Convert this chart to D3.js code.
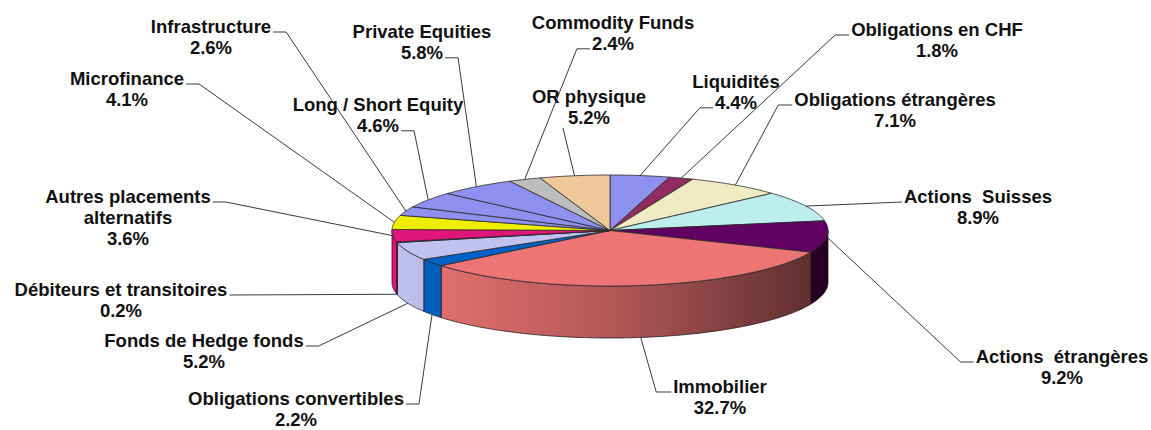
<!DOCTYPE html>
<html><head><meta charset="utf-8">
<script src="https://cdn.jsdelivr.net/npm/d3@7"></script>
<style>html,body{margin:0;padding:0;background:#fff;}svg{display:block;}</style>
</head><body>
<svg id="chart" width="1151" height="430"></svg>
<script>
// ---- data ----
const categories = ["Liquidités","Obligations en CHF","Obligations étrangères","Actions  Suisses","Actions  étrangères","Immobilier","Obligations convertibles","Fonds de Hedge fonds","Débiteurs et transitoires","Autres placements alternatifs","Microfinance","Infrastructure","Long / Short Equity","Private Equities","Commodity Funds","OR physique"];
const values = [4.4, 1.8, 7.1, 8.9, 9.2, 32.7, 2.2, 5.2, 0.2, 3.6, 4.1, 2.6, 4.6, 5.8, 2.4, 5.2];
const colors = ["#9090f0","#902d60","#f0ebc3","#bceeee","#600060","#ee7575","#0062c6","#c2c2f0","#000080","#e0157b","#eeee00","#9090f0","#9090f0","#9090f0","#bdbdbd","#eec898"];

// ---- layout ----
const W = 1151, H = 430;
const cx = 610, cy = 230.5, rx = 218, ry = 55.5, depth = 52;
const fontSize = 18.5, lineH = 20.8;
const labelLayout = [
 {x:736, y:88, att:1, side:"L", stub:13, anchor:"top"},
 {x:937, y:36, att:0, side:"L", stub:14, anchor:"top"},
 {x:895, y:106, att:0, side:"L", stub:14, anchor:"top"},
 {x:978, y:203, att:0, side:"L", stub:0, anchor:"top"},
 {x:1062, y:363, att:0, side:"L", stub:13, anchor:"top"},
 {x:720, y:393, att:0, side:"L", stub:15, anchor:"bot"},
 {x:296, y:405, att:0, side:"R", stub:13, anchor:"bot"},
 {x:204, y:347, att:0, side:"R", stub:13, anchor:"bot"},
 {x:121, y:296, att:0, side:"R", stub:0, anchor:"bot"},
 {x:128, y:203, att:0, side:"R", stub:13, anchor:"top", wrap:2},
 {x:127, y:85, att:0, side:"R", stub:13, anchor:"top"},
 {x:211, y:33, att:0, side:"R", stub:13, anchor:"top"},
 {x:378, y:111, att:1, side:"R", stub:13, anchor:"top"},
 {x:422, y:38, att:1, side:"R", stub:13, anchor:"top"},
 {x:613, y:29, att:1, side:"L", stub:13, anchor:"top"},
 {x:589, y:103, att:1, side:"L", stub:0, anchor:"top", dy:4, gap:5}
];

const svg = d3.select("#chart");
const defs = svg.append("defs");
const pie = d3.pie().sort(null).value(d => d).startAngle(0).endAngle(2*Math.PI);
const arcs = pie(values);

const P = (a, low) => [cx + rx*Math.sin(a), cy - ry*Math.cos(a) + (low ? depth : 0)];
const shade = d3.scaleLinear().domain([cx-rx, cx, cx+rx]).range([1.0, 0.75, 0.38]);

function sample(a0, a1, low) {
  const n = Math.max(2, Math.ceil((a1-a0)/0.01));
  return d3.range(n+1).map(i => P(a0 + (a1-a0)*i/n, low));
}
const line = d3.line();

// gradients for side walls
arcs.forEach((d, i) => {
  const g = defs.append("linearGradient").attr("id", "side"+i)
    .attr("gradientUnits", "userSpaceOnUse")
    .attr("x1", cx-rx).attr("x2", cx+rx).attr("y1", 0).attr("y2", 0);
  const base = d3.rgb(colors[i]);
  [0, 0.25, 0.5, 0.75, 1].forEach(t => {
    const x = cx - rx + t*2*rx, f = shade(x);
    g.append("stop").attr("offset", t)
      .attr("stop-color", d3.rgb(base.r*f, base.g*f, base.b*f).formatHex());
  });
});

// side walls (front half only)
const sideG = svg.append("g");
arcs.forEach((d, i) => {
  const lo = Math.max(d.startAngle, Math.PI/2), hi = Math.min(d.endAngle, 3*Math.PI/2);
  if (lo >= hi) return;
  const pts = sample(lo, hi, false).concat(sample(lo, hi, true).reverse());
  sideG.append("path").attr("d", line(pts) + "Z")
    .attr("fill", `url(#side${i})`).attr("stroke", "#2a1a1a").attr("stroke-width", 0.8)
    .attr("stroke-linejoin", "round");
});

// top faces
const topG = svg.append("g");
arcs.forEach((d, i) => {
  const pts = [[cx, cy]].concat(sample(d.startAngle, d.endAngle, false));
  topG.append("path").attr("d", line(pts) + "Z")
    .attr("fill", colors[i]).attr("stroke", "#2a2a2a").attr("stroke-width", 0.8)
    .attr("stroke-linejoin", "round");
});

// labels
const fmt = v => d3.format(".1f")(v) + "%";
const labG = svg.append("g")
  .attr("font-family", "'Liberation Sans', Arial, Helvetica, sans-serif")
  .attr("font-weight", "bold").attr("font-size", fontSize + "px").attr("fill", "#111");
const leadG = svg.insert("g", "g:last-of-type");

arcs.forEach((d, i) => {
  const L = labelLayout[i];
  let lines;
  if (L.wrap) {
    const w = categories[i].split(" ");
    lines = [w.slice(0, L.wrap).join(" "), w.slice(L.wrap).join(" ")];
  } else lines = [categories[i]];
  lines.push(fmt(values[i]));
  const nodes = lines.map((t, k) => labG.append("text")
    .attr("x", L.x).attr("y", L.y + k*lineH)
    .attr("text-anchor", "middle").style("white-space", "pre").text(t));
  const tn = nodes[L.att].node();
  const wdt = tn.getComputedTextLength();
  const ay = L.y + L.att*lineH + (L.dy !== undefined ? L.dy : -1);
  const gap = L.gap !== undefined ? L.gap : 2;
  const edge = L.side === "L" ? L.x - wdt/2 - gap : L.x + wdt/2 + gap;
  const elbow = L.side === "L" ? edge - L.stub : edge + L.stub;
  const mid = (d.startAngle + d.endAngle)/2;
  const anc = P(mid, L.anchor === "bot");
  leadG.append("path")
    .attr("d", line([[edge, ay], [elbow, ay], anc]))
    .attr("fill", "none").attr("stroke", "#3a3a3a").attr("stroke-width", 1);
});
</script>
</body></html>
